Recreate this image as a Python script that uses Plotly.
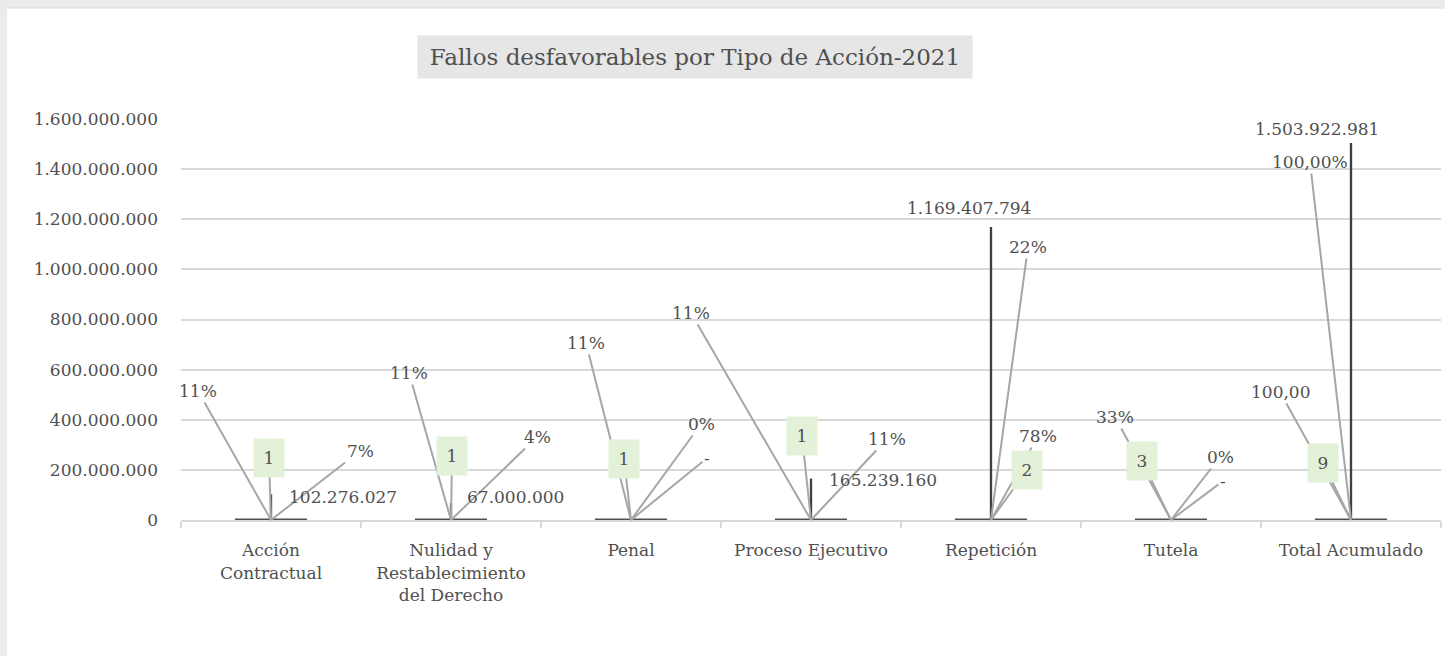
import plotly.graph_objects as go

# ---------------- data ----------------
categorias = ["Acción Contractual", "Nulidad y Restablecimiento del Derecho", "Penal",
              "Proceso Ejecutivo", "Repetición", "Tutela", "Total Acumulado"]
etiquetas_eje = ["Acción<br>Contractual", "Nulidad y<br>Restablecimiento<br>del Derecho", "Penal",
                 "Proceso Ejecutivo", "Repetición", "Tutela", "Total Acumulado"]
cantidad = [1, 1, 1, 1, 2, 3, 9]
valor = [102276027, 67000000, 0, 165239160, 1169407794, 0, 1503922981]
pct_cantidad = [11, 11, 11, 11, 22, 33, 100]
pct_valor = [7, 4, 0, 11, 78, 0, 100]
texto_pct_cantidad = ["11%", "11%", "11%", "11%", "22%", "33%", "100,00%"]
texto_pct_valor = ["7%", "4%", "0%", "11%", "78%", "0%", "100,00"]
y_ticks = [0, 200000000, 400000000, 600000000, 800000000,
           1000000000, 1200000000, 1400000000, 1600000000]
titulo = "Fallos desfavorables por Tipo de Acción-2021"

# ---------------- style / layout ----------------
FONT = "DejaVu Serif"
TXT = "#505050"
LEADER = "#a6a6a6"
GRID = "#d9d9d9"
W, H = 1445, 656
L, R, T, B = 181, 4, 119, 136
PW, PH = W - L - R, H - T - B


def px_x(px):
    return (px - L) / PW


def px_y(py):
    return (H - B - py) / PH


# label offsets in pixels (dx, dy) relative to the labelled point
off_pct_cant = [(-73, -129), (-42, -147), (-45, -177), (-120, -207), (37, -273), (-56, -103), (-41, -358)]
off_pct_val = [(89, -69), (86, -83), (70, -96), (76, -81), (47, -84), (49, -63), (-71, -128)]
off_cant = [(-2, -62), (1, -64), (-7, -61), (-9, -84), (36, -50), (-29, -59), (-28, -57)]
# (dx, dy, leader, xanchor)
off_valor = [(16, 3, False, "left"), (14, -6, False, "left"), (76, -62, True, "center"),
             (16, 1, False, "left"), (-22, -19, False, "center"), (52, -39, True, "center"),
             (-34, -14, False, "center")]


def fmt_valor(v):
    return "-" if v == 0 else f"{v:,}".replace(",", ".")


fig = go.Figure()

# value bars (very thin)
fig.add_trace(go.Bar(x=categorias, y=valor, width=0.013, marker_color="#404040",
                     marker_line_width=0, showlegend=False, hoverinfo="skip"))
# count series (tiny on this scale -> flat dark segments on the base line)
fig.add_trace(go.Scatter(x=categorias, y=cantidad, mode="markers",
                         marker=dict(symbol="line-ew-open", size=51.5, color="#505050",
                                     line=dict(width=3, color="#505050")),
                         showlegend=False, hoverinfo="skip", cliponaxis=False))

ann = []
lab_font = dict(family=FONT, size=17, color=TXT)
for i, c in enumerate(categorias):
    dx, dy = off_pct_cant[i]
    ann.append(dict(x=c, y=pct_cantidad[i] / 100, text=texto_pct_cantidad[i], showarrow=True,
                    arrowhead=0, arrowwidth=2, arrowcolor=LEADER, ax=dx, ay=dy, font=lab_font))
    dx, dy = off_pct_val[i]
    ann.append(dict(x=c, y=pct_valor[i] / 100, text=texto_pct_valor[i], showarrow=True,
                    arrowhead=0, arrowwidth=2, arrowcolor=LEADER, ax=dx, ay=dy, font=lab_font))
    dx, dy = off_cant[i]
    ann.append(dict(x=c, y=cantidad[i], text=str(cantidad[i]), showarrow=True,
                    arrowhead=0, arrowwidth=2, arrowcolor=LEADER, ax=dx, ay=dy, font=lab_font,
                    bgcolor="#e4f1d9", width=30, height=38, borderpad=0))
    dx, dy, leader, xa = off_valor[i]
    if leader:
        ann.append(dict(x=c, y=valor[i], text=fmt_valor(valor[i]), showarrow=True,
                        arrowhead=0, arrowwidth=2, arrowcolor=LEADER, ax=dx, ay=dy, font=lab_font))
    else:
        ann.append(dict(x=c, y=valor[i], text=fmt_valor(valor[i]), showarrow=False,
                        xanchor=xa, yanchor="middle", xshift=dx, yshift=-dy, font=lab_font))

# title box
ann.append(dict(xref="paper", yref="paper", x=px_x(695), y=px_y(57), text=titulo,
                showarrow=False, xanchor="center", yanchor="middle",
                font=dict(family=FONT, size=23, color=TXT),
                bgcolor="#e6e6e6", width=554, height=42, borderpad=0))

shapes = [
    dict(type="rect", xref="paper", yref="paper", x0=px_x(7), x1=px_x(W + 2),
         y0=px_y(H + 2), y1=px_y(8), fillcolor="white", line_width=0, layer="below"),
    dict(type="line", xref="paper", yref="paper", x0=px_x(7), x1=px_x(W + 2),
         y0=px_y(8), y1=px_y(8), line=dict(color="#dcdcdc", width=1), layer="below"),
]

fig.update_layout(
    width=W, height=H, autosize=False,
    margin=dict(l=L, r=R, t=T, b=B, pad=0),
    paper_bgcolor="#ebebec", plot_bgcolor="white",
    separators=",.",
    barmode="overlay",
    showlegend=False,
    font=dict(family=FONT, size=17, color=TXT),
    annotations=ann, shapes=shapes,
    xaxis=dict(type="category", categoryorder="array", categoryarray=categorias,
               tickvals=categorias, ticktext=etiquetas_eje, range=[-0.5, 6.5],
               showgrid=False, showline=True, linecolor=GRID, linewidth=2,
               ticks="outside", tickson="boundaries", ticklen=6, tickwidth=2, tickcolor=GRID,
               tickfont=dict(family=FONT, size=17, color=TXT), ticklabelstandoff=14),
    yaxis=dict(range=[0, 1600000000], tickvals=y_ticks, tickformat=",d",
               showgrid=True, gridcolor=GRID, gridwidth=2, zeroline=False, showline=False,
               ticks="", tickfont=dict(family=FONT, size=17, color=TXT), ticklabelstandoff=22),
)

fig.write_html("out.html")
